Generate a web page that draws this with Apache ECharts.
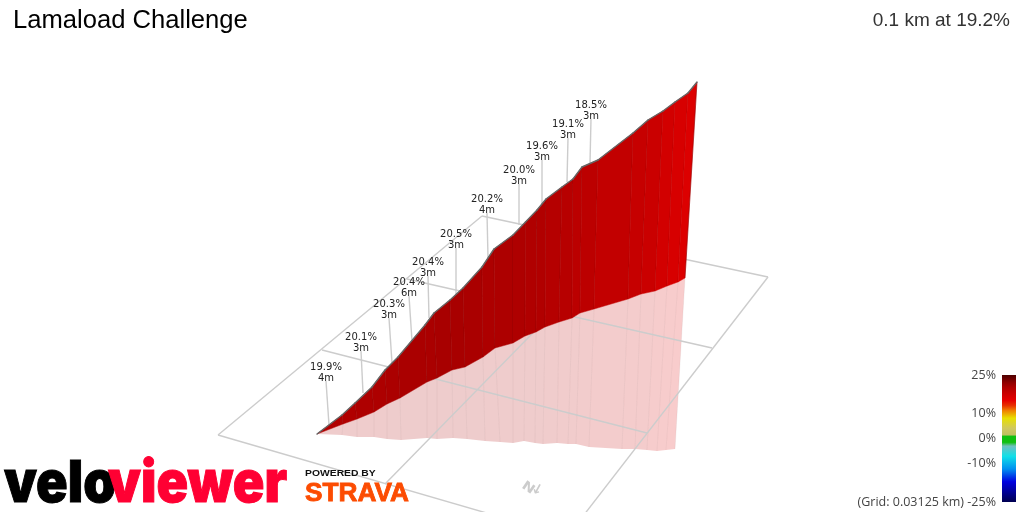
<!DOCTYPE html>
<html>
<head>
<meta charset="UTF-8">
<title>Lamaload Challenge</title>
<script src="https://cdn.jsdelivr.net/npm/echarts@6/dist/echarts.min.js"></script>
<style>
	html, body { margin: 0; padding: 0; background: #fff; }
	#charts { width: 1024px; height: 512px; }
</style>
<script type="text/javascript">

	// profile, as projected on the 1024x512 plane
	var ridgeX = [317, 342, 355, 372, 385, 398, 425, 434, 450, 463, 482, 494, 513, 525.5, 537, 546, 562, 573, 582, 598, 633, 648, 663, 675, 688, 697];
	var ridgeY = [434, 415, 403, 387, 370, 357, 325, 313, 300, 288, 267, 249, 235, 222, 210, 199, 187, 179, 167, 160, 133, 120, 111, 102, 93, 82];
	var footX = [317, 343, 357, 374, 387, 400, 427, 437, 452, 465, 483, 495, 513, 525, 536, 545, 559, 572, 580, 594, 628, 641, 655, 667, 678, 685];
	var footY = [434, 424, 419, 412, 404, 398, 382, 378, 370, 367, 357, 348, 343, 336, 332, 327, 322, 318, 313, 309, 299, 294, 291, 286, 282, 278];
	var shadowX = [317, 342, 357, 374, 387, 401, 427, 437, 453, 467, 485, 500, 513, 524, 535, 543, 557, 568, 576, 589, 622, 635, 647, 657, 666, 675];
	var shadowY = [434, 435, 437, 437, 439, 440, 438, 439, 438, 439, 441, 442, 443, 441, 443, 444, 443, 444, 444, 447, 449, 449, 450, 451, 450, 449];
	var stripGrade = [19.9, 20, 20.1, 20.2, 20.3, 20.4, 20.4, 20.5, 20.5, 20.4, 20.2, 20.2, 20.1, 20, 19.9, 19.6, 19.4, 19.1, 19, 18.5, 18.2, 17.8, 17, 16.5, 16];

	// floor grid
	var floorFromX = [218, 385, 768, 218, 322, 407, 482];
	var floorFromY = [435, 484, 277, 435, 350, 279, 216];
	var floorToX = [482, 619, 580, 490, 647, 712, 768];
	var floorToY = [216, 245, 520, 514, 433, 348, 277];

	// climb labels
	var labelGrade = ['19.9%', '20.1%', '20.3%', '20.4%', '20.4%', '20.5%', '20.2%', '20.0%', '19.6%', '19.1%', '18.5%'];
	var labelLength = ['4m', '3m', '3m', '6m', '3m', '3m', '4m', '3m', '3m', '3m', '3m'];
	var stemTopX = [326, 361, 389, 409, 428, 456, 487, 519, 542, 568, 591];
	var stemTopY = [381, 351, 318, 296, 276, 248, 213, 184, 160, 138, 119];
	var stemEndX = [329, 363, 392, 412, 429, 456, 488, 519, 542, 567, 590];
	var stemEndY = [425, 393, 363, 341, 318, 294, 258, 225, 205, 182, 163];

	// gradient scale
	var scaleGrades = [25, 22, 20, 18, 15, 13, 11, 8, 4, 1.5, 0.8, -1.5, -3, -7, -12, -17, -25];
	var scaleColors = ['#4d0000', '#900000', '#b00000', '#c80000', '#e60000', '#e83000', '#f08000', '#e8e000', '#d0c860', '#c0c060', '#10c010', '#10c010', '#70c0c0', '#10e0e8', '#0090f0', '#0000e0', '#000050'];
	var scaleTicks = [25, 10, 0, -10, -25];

	function hexToRgb(c) {
		return [parseInt(c.substr(1, 2), 16), parseInt(c.substr(3, 2), 16), parseInt(c.substr(5, 2), 16)];
	}

	function gradeColor(g) {
		for (var i = 1; i < scaleGrades.length; i++) {
			if (g >= scaleGrades[i]) {
				var t = (g - scaleGrades[i]) / (scaleGrades[i - 1] - scaleGrades[i]);
				var a = hexToRgb(scaleColors[i]), b = hexToRgb(scaleColors[i - 1]);
				return 'rgb(' + Math.round(a[0] + (b[0] - a[0]) * t) + ',' + Math.round(a[1] + (b[1] - a[1]) * t) + ',' + Math.round(a[2] + (b[2] - a[2]) * t) + ')';
			}
		}
		return scaleColors[scaleColors.length - 1];
	}

	function renderFloor(params, api) {
		var i = params.dataIndex;
		var a = api.coord([floorFromX[i], floorFromY[i]]), b = api.coord([floorToX[i], floorToY[i]]);
		return { type: 'line', shape: { x1: a[0], y1: a[1], x2: b[0], y2: b[1] }, style: { stroke: '#cccccc', lineWidth: 1.4 } };
	}

	function renderShadow(params, api) {
		var i = params.dataIndex;
		var f = api.coord([footX[i + 1], footY[i + 1]]), s = api.coord([shadowX[i + 1], shadowY[i + 1]]);
		return {
			type: 'group',
			children: [
				{
					type: 'polygon',
					shape: { points: [api.coord([footX[i], footY[i]]), f, s, api.coord([shadowX[i], shadowY[i]])] },
					style: { fill: gradeColor(stripGrade[i]), opacity: 0.2 }
				},
				{ type: 'line', shape: { x1: f[0], y1: f[1], x2: s[0], y2: s[1] }, style: { stroke: 'rgba(120,90,90,0.07)', lineWidth: 1 } }
			]
		};
	}

	function renderStem(params, api) {
		var i = params.dataIndex;
		var a = api.coord([stemTopX[i], stemTopY[i]]), b = api.coord([stemEndX[i], stemEndY[i]]);
		return {
			type: 'group',
			children: [
				{ type: 'line', shape: { x1: a[0], y1: a[1], x2: b[0], y2: b[1] }, style: { stroke: '#cccccc', lineWidth: 1.4 } },
				{
					type: 'text', x: a[0], y: a[1] + 2.5,
					style: {
						text: labelGrade[i] + '\n' + labelLength[i], fill: '#222', align: 'center', verticalAlign: 'bottom',
						font: '10px "DejaVu Sans"', lineHeight: 10.5
					}
				}
			]
		};
	}

	function renderWall(params, api) {
		var i = params.dataIndex;
		var c = gradeColor(stripGrade[i]);
		var rt = api.coord([ridgeX[i + 1], ridgeY[i + 1]]), ft = api.coord([footX[i + 1], footY[i + 1]]);
		return {
			type: 'group',
			children: [
				{
					type: 'polygon',
					shape: { points: [api.coord([ridgeX[i], ridgeY[i]]), rt, ft, api.coord([footX[i], footY[i]])] },
					style: { fill: c, stroke: c, lineWidth: 0.5 }
				},
				{ type: 'line', shape: { x1: rt[0], y1: rt[1], x2: ft[0], y2: ft[1] }, style: { stroke: 'rgba(60,0,0,0.35)', lineWidth: 0.8 } }
			]
		};
	}

	function renderRidge(params, api) {
		var i = params.dataIndex;
		var a = api.coord([ridgeX[i], ridgeY[i]]), b = api.coord([ridgeX[i + 1], ridgeY[i + 1]]);
		return { type: 'line', shape: { x1: a[0], y1: a[1], x2: b[0], y2: b[1] }, style: { stroke: '#666666', lineWidth: 1.4, lineCap: 'round' } };
	}

	function renderScale(params, api) {
		var a = api.coord([0, 25]), b = api.coord([1, -25]);
		var stops = [];
		for (var i = 0; i < scaleGrades.length; i++) {
			stops.push({ offset: (25 - scaleGrades[i]) / 50, color: scaleColors[i] });
		}
		return {
			type: 'rect',
			shape: { x: a[0], y: a[1], width: b[0] - a[0], height: b[1] - a[1] },
			style: { fill: new echarts.graphic.LinearGradient(0, 0, 0, 1, stops) }
		};
	}

	function init() {
		var chart = echarts.init(document.getElementById('charts'));
		var option = {
			animation: false,
			title: [{
				text: 'Lamaload Challenge', left: 8, top: 3,
				textStyle: { fontFamily: 'Liberation Sans', fontSize: 25.6, fontWeight: 'normal', color: '#000' }
			}, {
				text: '0.1 km at 19.2%', right: 9, top: 6,
				textStyle: { fontFamily: 'Liberation Sans', fontSize: 19, fontWeight: 'normal', color: '#333' }
			}],
			grid: [
				{ left: 0, right: 0, top: 0, bottom: 0 },
				{ left: 1002, width: 14, top: 375, height: 127 }
			],
			xAxis: [
				{ gridIndex: 0, type: 'value', min: 0, max: 1024, show: false },
				{ gridIndex: 1, type: 'value', min: 0, max: 1, show: false }
			],
			yAxis: [
				{ gridIndex: 0, type: 'value', min: 0, max: 512, inverse: true, show: false },
				{
					gridIndex: 1, type: 'value', min: -25, max: 25, position: 'left',
					axisLine: { show: false }, axisTick: { show: false }, splitLine: { show: false },
					axisLabel: {
						customValues: scaleTicks, margin: 6, showMinLabel: true, showMaxLabel: true, hideOverlap: false,
						fontFamily: 'Open Sans', fontSize: 12.5, color: '#444', formatter: '{value}%'
					}
				}
			],
			series: [
				{ type: 'custom', silent: true, z: 1, data: stripGrade, renderItem: renderShadow },
				{ type: 'custom', silent: true, z: 2, data: floorFromX, renderItem: renderFloor },
				{ type: 'custom', silent: true, z: 3, data: labelGrade, renderItem: renderStem },
				{ type: 'custom', silent: true, z: 4, data: stripGrade, renderItem: renderWall },
				{ type: 'custom', silent: true, z: 5, data: stripGrade, renderItem: renderRidge },
				{ type: 'custom', silent: true, xAxisIndex: 1, yAxisIndex: 1, data: [1], renderItem: renderScale }
			],
			graphic: [
				{
					type: 'text', x: 964, y: 502, z: 10, silent: true,
					style: { text: '(Grid: 0.03125 km)', align: 'right', verticalAlign: 'middle', font: '12.5px "Open Sans"', fill: '#444' }
				},
				{
					type: 'text', x: 4, y: 513.5, scaleX: 0.9, z: 10, silent: true,
					style: { text: 'velo', align: 'left', verticalAlign: 'bottom', font: '900 58px Inter', fill: '#000', stroke: '#000', lineWidth: 1 }
				},
				{
					type: 'text', x: 108, y: 513.5, scaleX: 0.9, z: 11, silent: true,
					style: { text: 'viewer', align: 'left', verticalAlign: 'bottom', font: '900 58px Inter', fill: '#ff0033', stroke: '#ff0033', lineWidth: 1 }
				},
				{
					type: 'text', x: 305, y: 474, scaleX: 1.15, z: 10, silent: true,
					style: { text: 'POWERED BY', align: 'left', verticalAlign: 'middle', font: 'bold 9px "Liberation Sans"', fill: '#111' }
				},
				{
					type: 'text', x: 305, y: 494, scaleX: 1.05, z: 10, silent: true,
					style: { text: 'STRAVA', align: 'left', verticalAlign: 'middle', font: 'bold 25px "Liberation Sans"', fill: '#fc4c02', stroke: '#fc4c02', lineWidth: 0.8 }
				},
				{
					type: 'text', x: 528, y: 488, rotation: -0.6, scaleY: 0.85, z: 10, silent: true,
					style: { text: 'N', align: 'center', verticalAlign: 'middle', font: 'bold 15px "DejaVu Sans"', fill: '#cccccc' }
				},
				{
					type: 'text', x: 537, y: 490, rotation: -0.5, z: 10, silent: true,
					style: { text: '↓', align: 'center', verticalAlign: 'middle', font: 'bold 14px "DejaVu Sans"', fill: '#cccccc' }
				}
			]
		};
		chart.setOption(option);
	}

	window.onload = function() {
		init();
	}
</script>
</head>
<body>
	<div id="charts"></div>
</body>
</html>
